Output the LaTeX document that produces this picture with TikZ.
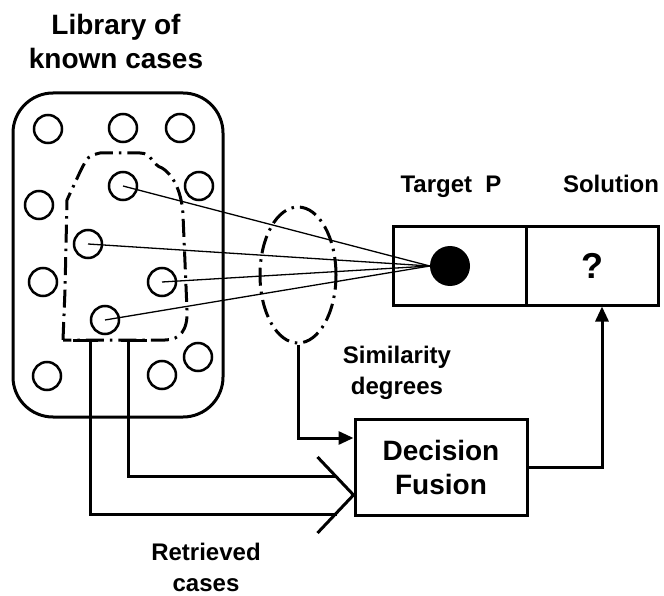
\documentclass[tikz,border=0pt]{standalone}
\usepackage{fontspec}
\setmainfont{Liberation Sans}
\usetikzlibrary{shapes.geometric,arrows.meta}
\begin{document}
\begin{tikzpicture}[x=1pt,y=-1pt,
  thick line/.style={line width=3pt},
  casecirc/.style={circle,draw,line width=2.5pt,minimum size=28pt,inner sep=0pt},
  dashdot/.style={line width=3pt,dash pattern=on 18pt off 6pt on 2.5pt off 6pt},
  lbl/.style={font=\fontsize{24}{31}\selectfont\bfseries,align=center,inner sep=0pt},
  boxstyle/.style={draw,line width=3pt,inner sep=0pt},
  simline/.style={line width=1.3pt},
  filledtip/.style={-{Triangle[length=15pt,width=13pt]}}
]
\useasboundingbox (0,0) rectangle (664,596);

% library
\node[boxstyle,rounded corners=40pt,minimum width=210pt,minimum height=324pt] (lib) at (118,255) {};
\node[lbl,font=\fontsize{28}{34}\selectfont\bfseries] (libtxt) at (116,41) {Library of\\known cases};

% circles
\node[casecirc] (c1) at (48,129) {};
\node[casecirc] (c2) at (123,128) {};
\node[casecirc] (c3) at (180,128) {};
\node[casecirc] (c4) at (123,186) {};
\node[casecirc] (c5) at (199,186) {};
\node[casecirc] (c6) at (39,205) {};
\node[casecirc] (c7) at (88,244) {};
\node[casecirc] (c8) at (43,282) {};
\node[casecirc] (c9) at (162,282) {};
\node[casecirc] (c10) at (105,320) {};
\node[casecirc] (c11) at (198,357) {};
\node[casecirc] (c12) at (162,375) {};
\node[casecirc] (c13) at (47,376) {};

% retrieved region
\draw[dashdot] (63,340) -- (65,290) -- (67,200) -- (80,172) .. controls (88,156) .. (100,153) -- (140,153) .. controls (152,153) and (152,165) .. (162,168) .. controls (175,176) and (182,195) .. (183,215) -- (187,310) .. controls (188,330) and (180,340) .. (165,340) -- cycle;
\coordinate (r1) at (90,340);
\coordinate (r2) at (128,340);
\draw[thick line] (73,340) -- (98,340);
\draw[thick line] (121,340) -- (147,340);

% similarity ellipse
\node[ellipse,draw,dashdot,minimum width=76pt,minimum height=136pt,inner sep=0pt] (ell) at (298,275) {};

% target and solution
\node[boxstyle,minimum width=133pt,minimum height=78pt] (tgt) at (459.5,266) {};
\node[boxstyle,minimum width=132pt,minimum height=78pt,font=\fontsize{36}{36}\selectfont\bfseries] (sol) at (592,266) {?};
\node[circle,fill=black,minimum size=40pt,inner sep=0pt] (dot) at (450,266) {};
\node[lbl,anchor=base] (tgttxt) at (451,193) {Target\ \ P};
\node[lbl,anchor=base] (soltxt) at (611,193) {Solution};

% similarity lines
\draw[simline] (c4.center) -- (dot.west);
\draw[simline] (c7.center) -- (dot.west);
\draw[simline] (c9.center) -- (dot.west);
\draw[simline] (c10.center) -- (dot.west);

% decision fusion
\node[boxstyle,minimum width=172pt,minimum height=96pt,align=center,font=\fontsize{28}{34}\selectfont\bfseries] (fus) at (441,467) {Decision\\Fusion};
\node[lbl] (simtxt) at (397,373) {Similarity\\degrees};
\node[lbl] (rettxt) at (206,567) {Retrieved\\cases};

% connectors
\draw[thick line,filledtip] (ell.south) |- ([yshift=29pt]fus.west);
\draw[thick line,filledtip] (fus.east) -| ([xshift=10pt]sol.south);
\coordinate (tip) at ([yshift=-28pt]fus.west);
\draw[thick line] ([shift={(-36pt,38pt)}]tip) -- (tip) -- ([shift={(-36pt,-38pt)}]tip);
\draw[thick line] (r1) |- (337,514);
\draw[thick line] (r2) |- (337,476);
\end{tikzpicture}
\end{document}
